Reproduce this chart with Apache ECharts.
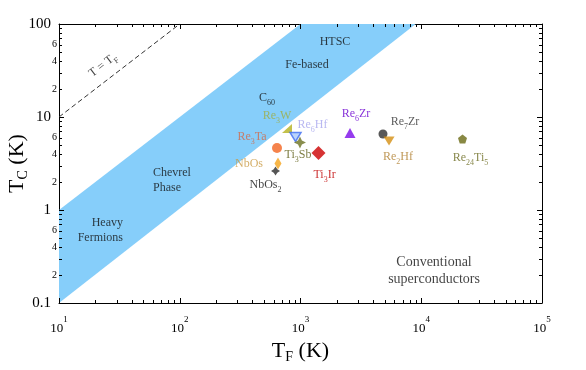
<!DOCTYPE html>
<html>
<head>
<meta charset="utf-8">
<script src="https://cdn.jsdelivr.net/npm/echarts@6/dist/echarts.min.js"></script>
<style>
html, body { margin: 0; background: #fff; }
#container { width: 586px; height: 370px; }
</style>
</head>
<body>
<div id="container"></div>
<script>
// materials (T_F in K, T_C in K)
var names = ['Re3W', 'Re6Hf', 'Ti3Sb', 'Re3Ta', 'NbOs', 'NbOs2', 'Ti3Ir', 'Re6Zr', 'Re7Zr', 'Re2Hf', 'Re24Ti5'];
var fermiT = [773, 909, 990, 639, 651, 621, 1410, 2570, 4820, 5410, 21970];
var critT = [7.52, 6.10, 5.32, 4.64, 3.16, 2.63, 4.10, 6.73, 6.57, 5.52, 5.80];

// unconventional band corners
var bandTf = [10, 10, 1000, 9000];
var bandTc = [0.1, 1, 100, 100];

// T = T_F line
var lineTf = [10, 100];
var lineTc = [10, 100];

// region labels
var regionNames = ['Heavy\nFermions', 'Chevrel\nPhase', 'C60', 'Fe-based', 'HTSC', 'Conventional\nsuperconductors', 'T = TF'];
var regionTf = [33.9, 60, 528, 1132, 1932, 12760, 23.1];
var regionTc = [0.61, 2.1, 16.0, 36.2, 64, 0.221, 36.2];

// ticks
var decadesX = [10, 100, 1000, 10000];
var decadesY = [0.1, 1, 10];
var minorSteps = [2, 3, 4, 5, 6, 7, 8, 9];
var minorLabelSteps = [2, 4, 6];

var SERIF = "'Liberation Serif', 'Times New Roman', serif";

// per-material look
var markerStyle = [
    { symbol: 'path://M0,10 L10,10 L10,0 Z', size: [10, 9], color: '#b4b21e', text: '#9fae42', offset: [-10, -13] },
    { symbol: 'triangle', rotate: 180, size: [11, 9], color: '#a9c9fb', border: '#3f6df0', text: '#a8a6ee', offset: [17, -12] },
    { symbol: 'path://M5,0 L6.6,3.4 L10,5 L6.6,6.6 L5,10 L3.4,6.6 L0,5 L3.4,3.4 Z', size: 12, color: '#6b7222', text: '#5c5c14', offset: [-2, 12] },
    { symbol: 'circle', size: 10, color: '#f2641f', text: '#d26a4a', offset: [-25, -11] },
    { symbol: 'diamond', size: [7, 12], color: '#f5a41c', text: '#c99a42', offset: [-29, 0] },
    { symbol: 'path://M5,0 L7,3 L10,5 L7,7 L5,10 L3,7 L0,5 L3,3 Z', size: 9, color: '#2a2a2a', text: '#111', offset: [-10, 14] },
    { symbol: 'diamond', size: 14, color: '#cc0000', text: '#c00000', offset: [6, 22] },
    { symbol: 'triangle', size: [11, 10], color: '#7a0be8', text: '#6a00d0', offset: [6, -19] },
    { symbol: 'circle', size: 9, color: '#2e2e2e', text: '#333', offset: [22, -12] },
    { symbol: 'triangle', rotate: 180, size: [11, 9], color: '#d48e12', text: '#b08030', offset: [9, 16] },
    { symbol: 'path://M5,0 L9.76,3.45 L7.94,9.05 L2.06,9.05 L0.24,3.45 Z', size: 9, color: '#6a6a14', text: '#6b6b20', offset: [8, 19] }
];

var regionStyle = [
    { align: 'right', size: 12 },
    { align: 'left', size: 12 },
    { align: 'center', size: 12 },
    { align: 'center', size: 12 },
    { align: 'center', size: 12 },
    { align: 'center', size: 14 },
    { align: 'center', size: 12, rotate: 37.6 }
];

// "Re24Ti5" -> rich text with subscripts
function subRich(name) {
    if (name === 'T = TF') return '{n|T = T}{s|F}';
    return name.split(/(\d+)/).filter(function (p) { return p; }).map(function (p) {
        return /^\d+$/.test(p) ? '{s|' + p + '}' : '{n|' + p + '}';
    }).join('');
}
function richFor(color, size) {
    return {
        n: { fontFamily: SERIF, fontSize: size, color: color, lineHeight: size + 6 },
        s: { fontFamily: SERIF, fontSize: Math.round(size * 0.65), color: color, verticalAlign: 'bottom', lineHeight: size * 0.65 + 2 }
    };
}

var matData = names.map(function (n, i) {
    var st = markerStyle[i];
    return {
        value: [fermiT[i], critT[i]],
        symbol: st.symbol,
        symbolSize: st.size,
        symbolRotate: st.rotate || 0,
        itemStyle: { color: st.color, borderColor: st.border || st.color, borderWidth: st.border ? 1.5 : 0 },
        label: {
            show: true, position: 'inside', offset: st.offset,
            formatter: subRich(n), rich: richFor(st.text, 12)
        }
    };
});

var regionData = regionNames.map(function (n, i) {
    var st = regionStyle[i];
    var lines = n.split('\n');
    return {
        value: [regionTf[i], regionTc[i]],
        label: {
            show: true, position: 'inside', align: st.align, verticalAlign: 'middle',
            rotate: st.rotate || 0,
            formatter: lines.length > 1 ? n : subRich(n),
            fontFamily: SERIF, fontSize: st.size, color: '#111', lineHeight: st.size + 3,
            rich: richFor('#111', st.size)
        }
    };
});

function seg(x1, y1, x2, y2) {
    return { type: 'line', shape: { x1: x1, y1: y1, x2: x2, y2: y2 }, style: { stroke: '#000', lineWidth: 1 } };
}

function renderTicks(params, api) {
    var cs = params.coordSys;
    var left = cs.x, right = cs.x + cs.width, top = cs.y, bottom = cs.y + cs.height;
    var kids = [];
    var xs = [], ys = [];
    decadesX.forEach(function (d) {
        xs.push([d, 5]);
        minorSteps.forEach(function (k) { xs.push([d * k, 3]); });
    });
    xs.push([100000, 5]);
    decadesY.forEach(function (d) {
        ys.push([d, 5]);
        minorSteps.forEach(function (k) { ys.push([d * k, 3]); });
        minorLabelSteps.forEach(function (k) {
            var py = api.coord([10, d * k])[1];
            kids.push({ type: 'text', style: { text: String(k), x: left - 2, y: py, align: 'right', verticalAlign: 'middle', fontFamily: SERIF, fontSize: 10, fill: '#000' } });
        });
    });
    ys.push([100, 5]);
    xs.forEach(function (t) {
        var px = Math.round(api.coord([t[0], 1])[0]) + 0.5;
        kids.push(seg(px, bottom, px, bottom - t[1]));
        kids.push(seg(px, top, px, top + t[1]));
    });
    ys.forEach(function (t) {
        var py = Math.round(api.coord([10, t[0]])[1]) + 0.5;
        kids.push(seg(left, py, left + t[1], py));
        kids.push(seg(right, py, right - t[1], py));
    });
    return { type: 'group', children: kids };
}

function renderBand(params, api) {
    var pts = bandTf.map(function (t, i) { return api.coord([t, bandTc[i]]); });
    return { type: 'polygon', shape: { points: pts }, style: { fill: '#86cefa' } };
}

var axisLineStyle = { show: true, lineStyle: { color: '#000', width: 1 } };

var dom = document.getElementById('container');
var myChart = echarts.init(dom, null, { renderer: 'canvas' });
var option = {
    animation: false,
    backgroundColor: '#fff',
    grid: { left: 59, top: 24, width: 483, height: 279, containLabel: false, outerBoundsMode: 'none' },
    xAxis: [{
        type: 'log', logBase: 10, min: 10, max: 100000,
        axisLine: axisLineStyle, axisTick: { show: false }, splitLine: { show: false },
        axisLabel: {
            margin: 12,
            formatter: function (v) { return '{b|10}{p|' + Math.round(Math.log10(v)) + '}'; },
            rich: {
                b: { fontFamily: SERIF, fontSize: 13, color: '#000', lineHeight: 28 },
                p: { fontFamily: SERIF, fontSize: 9, color: '#000', verticalAlign: 'top', lineHeight: 10 }
            }
        },
        name: '{t|T}{s|F}{t| (K)}', nameLocation: 'middle', nameGap: 35, nameMoveOverlap: false,
        nameTextStyle: {
            rich: {
                t: { fontFamily: SERIF, fontSize: 22, color: '#000', lineHeight: 26 },
                s: { fontFamily: SERIF, fontSize: 14, color: '#000', verticalAlign: 'bottom', lineHeight: 16 }
            }
        }
    }, {
        type: 'log', logBase: 10, min: 10, max: 100000, position: 'top',
        axisLine: axisLineStyle, axisTick: { show: false }, axisLabel: { show: false }, splitLine: { show: false }
    }],
    yAxis: [{
        type: 'log', logBase: 10, min: 0.1, max: 100,
        axisLine: axisLineStyle, axisTick: { show: false }, splitLine: { show: false },
        axisLabel: {
            margin: 8, fontFamily: SERIF, fontSize: 15, color: '#000',
            formatter: function (v) { return v < 0.5 ? '0.1' : String(Math.round(v)); }
        },
        name: '{t|T}{s|C}{t| (K)}', nameLocation: 'middle', nameGap: 29, nameRotate: 90, nameMoveOverlap: false,
        nameTextStyle: {
            rich: {
                t: { fontFamily: SERIF, fontSize: 22, color: '#000', lineHeight: 26 },
                s: { fontFamily: SERIF, fontSize: 14, color: '#000', verticalAlign: 'bottom', lineHeight: 16 }
            }
        }
    }, {
        type: 'log', logBase: 10, min: 0.1, max: 100, position: 'right',
        axisLine: axisLineStyle, axisTick: { show: false }, axisLabel: { show: false }, splitLine: { show: false }
    }],
    series: [
        { type: 'custom', renderItem: renderBand, data: [[10, 1]], silent: true, z: 1 },
        {
            type: 'line', data: lineTf.map(function (t, i) { return [t, lineTc[i]]; }),
            symbol: 'none', silent: true, z: 2,
            lineStyle: { color: '#333', width: 1, type: [5, 3] }
        },
        { type: 'custom', renderItem: renderTicks, data: [[10, 1]], silent: true, clip: false, z: 3 },
        { type: 'scatter', data: regionData, symbolSize: 0, silent: true, z: 4 },
        { type: 'scatter', data: matData, silent: true, z: 5 }
    ]
};
myChart.setOption(option, true);
</script>
</body>
</html>
